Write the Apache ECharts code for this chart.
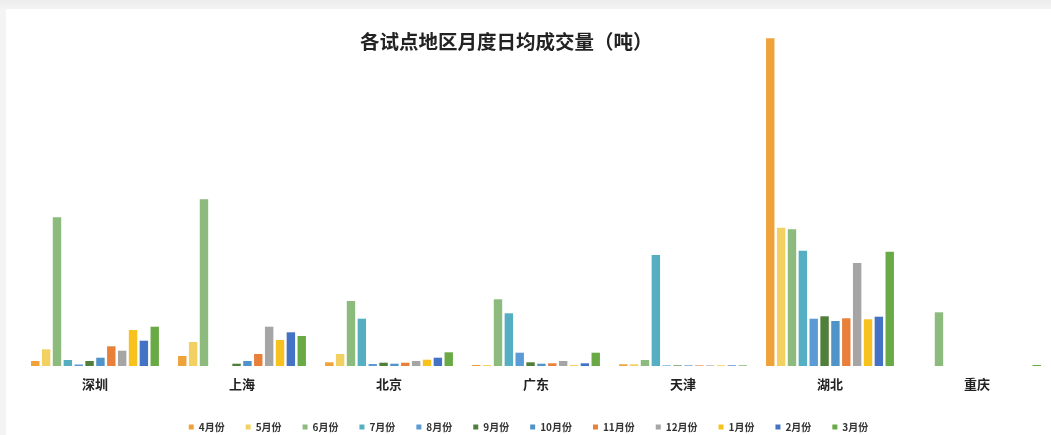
<!DOCTYPE html>
<html>
<head>
<meta charset="utf-8">
<script src="https://cdn.jsdelivr.net/npm/echarts@6/dist/echarts.min.js"></script>
<style>
  html, body { margin: 0; padding: 0; width: 1051px; height: 435px; overflow: hidden;
    background: linear-gradient(180deg, #ececec 0px, #f4f4f4 9px, #f4f4f4 100%); }
  #chart { position: absolute; left: 6px; top: 9px; width: 1045px; height: 426px; background: #ffffff; }
</style>
</head>
<body>
<div id="chart"></div>
<script>
// Title and category labels
const titleText = '各试点地区月度日均成交量（吨）';
const regions = ['深圳', '上海', '北京', '广东', '天津', '湖北', '重庆'];

// Series (months), relative daily average volume
const months = ['4月份', '5月份', '6月份', '7月份', '8月份', '9月份', '10月份', '11月份', '12月份', '1月份', '2月份', '3月份'];
const colors = ['#EFA23A', '#F3D062', '#8DBB7E', '#55AEC1', '#5B9BD5', '#4F7F38', '#4F93C9', '#E8803A', '#A5A5A5', '#F7C11E', '#4472C4', '#6AAA46'];

// values per month, ordered as regions: 深圳, 上海, 北京, 广东, 天津, 湖北, 重庆
const apr = [5, 10, 3.7, 1, 1.7, 327.7, 0];
const may = [16.7, 24, 12, 1, 1.7, 138.3, 0];
const jun = [148.7, 166.7, 65, 66.7, 6, 136.7, 53.7];
const jul = [6, 0, 47.3, 52.7, 111, 115.3, 0];
const aug = [1.5, 0, 2, 13.3, 0.6, 47.3, 0];
const sep = [5, 2.3, 3.3, 3.7, 0.6, 49.7, 0];
const oct = [8.3, 5, 2.3, 2.3, 0.6, 45, 0];
const nov = [19.7, 12, 3.3, 2.7, 0.6, 47.7, 0];
const dec = [15.3, 39.3, 5, 5, 0.6, 103, 0];
const jan = [36, 26, 6.3, 0.7, 0.6, 46.7, 0];
const feb = [25.3, 33.7, 8.3, 2.7, 0.6, 49.3, 0];
const mar = [39.3, 30, 13.7, 13.3, 0.6, 114.3, 1];

const seriesValues = [apr, may, jun, jul, aug, sep, oct, nov, dec, jan, feb, mar];

const chart = echarts.init(document.getElementById('chart'), null, { renderer: 'canvas' });
const font = '"Noto Sans CJK SC", "Noto Sans", sans-serif';

chart.setOption({
  animation: false,
  backgroundColor: '#ffffff',
  title: {
    text: titleText,
    left: 354,
    top: 23,
    padding: 0,
    textStyle: { fontFamily: font, fontSize: 19.5, fontWeight: 'bold', color: '#222' }
  },
  legend: {
    data: months,
    left: 'center',
    top: 408,
    icon: 'rect',
    itemWidth: 5,
    itemHeight: 5,
    itemGap: 21,
    textStyle: { fontFamily: font, fontSize: 10, fontWeight: 'bold', color: '#333' }
  },
  grid: { left: 15.5, right: 0.5, top: 17, bottom: 69, containLabel: false },
  xAxis: {
    type: 'category',
    data: regions,
    axisLine: { show: false },
    axisTick: { show: false },
    axisLabel: { fontFamily: font, fontSize: 13, fontWeight: 'bold', color: '#222', margin: 12 }
  },
  yAxis: {
    type: 'value',
    min: 0,
    max: 340,
    show: false,
    splitLine: { show: false }
  },
  series: months.map((m, i) => ({
    name: m,
    type: 'bar',
    data: seriesValues[i],
    barCategoryGap: '13%',
    barGap: '29%',
    itemStyle: { color: colors[i] }
  }))
});
</script>
</body>
</html>
